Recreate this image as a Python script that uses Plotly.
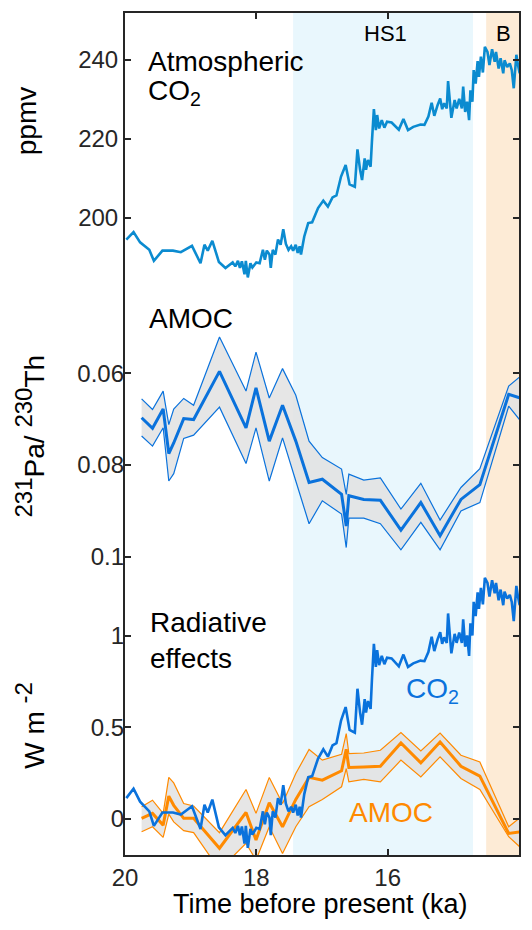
import plotly.graph_objects as go

# ---------------- data ----------------
co2_age = [19.98, 19.87, 19.77, 19.63, 19.56, 19.43, 19.27, 19.15, 18.98, 18.85, 18.79, 18.74, 18.67, 18.57,
           18.47, 18.41, 18.36, 18.32, 18.28, 18.25, 18.22, 18.18, 18.16, 18.13, 18.09, 18.06, 18.00, 17.95,
           17.90, 17.87, 17.84, 17.80, 17.78, 17.75, 17.71, 17.67, 17.63, 17.59, 17.55, 17.51, 17.47, 17.44,
           17.40, 17.37, 17.34, 17.32, 17.27, 17.21, 17.15, 17.06, 16.98, 16.91, 16.84, 16.78, 16.71, 16.64,
           16.58, 16.50, 16.46, 16.42, 16.39, 16.35, 16.33, 16.30, 16.26, 16.24, 16.21, 16.18, 16.16, 16.13,
           16.09, 16.05, 16.01, 15.94, 15.83, 15.76, 15.69, 15.61, 15.50, 15.44, 15.38, 15.33, 15.29, 15.24,
           15.20, 15.17, 15.14, 15.10, 15.08, 15.03, 14.98, 14.95, 14.91, 14.87, 14.85, 14.82, 14.79, 14.76,
           14.74, 14.71, 14.69, 14.66, 14.63, 14.61, 14.58, 14.55, 14.52, 14.48, 14.45, 14.41, 14.37, 14.35,
           14.31, 14.28, 14.24, 14.22, 14.18, 14.14, 14.11, 14.08, 14.04, 14.02, 13.99]
co2_ppmv = [194.4, 196.3, 193.7, 191.8, 189.0, 191.6, 191.6, 191.2, 192.8, 188.4, 193.1, 191.6, 194.1, 188.7,
            187.2, 188.0, 188.6, 187.6, 189.0, 187.2, 188.9, 185.6, 189.0, 184.8, 188.4, 187.3, 188.6, 188.4,
            191.8, 189.3, 191.6, 190.6, 187.2, 191.8, 190.6, 194.4, 193.1, 197.0, 193.3, 191.8, 192.7, 191.6,
            193.1, 191.0, 192.7, 190.6, 195.2, 198.6, 198.8, 202.4, 204.3, 202.8, 205.1, 205.6, 210.4, 213.3,
            208.4, 207.8, 217.3, 212.1, 209.5, 215.0, 212.1, 214.6, 212.9, 219.2, 227.5, 222.2, 226.0, 222.6,
            224.7, 222.8, 224.3, 224.1, 222.3, 225.0, 222.2, 223.0, 223.6, 223.5, 225.6, 229.1, 225.8, 228.5,
            230.2, 227.5, 229.0, 227.7, 234.6, 225.3, 229.8, 227.7, 230.1, 227.7, 233.2, 226.8, 229.4, 224.7,
            232.3, 229.4, 237.4, 234.0, 239.7, 235.7, 240.8, 236.8, 243.3, 242.0, 238.7, 242.7, 239.5, 242.0,
            237.8, 240.4, 236.6, 239.9, 238.2, 239.1, 237.4, 232.8, 241.3, 239.1, 236.6]
co2_rad = [0.114, 0.166, 0.095, 0.042, -0.037, 0.036, 0.036, 0.025, 0.07, -0.054, 0.078, 0.036, 0.106, -0.045,
           -0.088, -0.065, -0.048, -0.076, -0.037, -0.088, -0.04, -0.134, -0.037, -0.157, -0.054, -0.085, -0.048,
           -0.054, 0.042, -0.028, 0.036, 0.008, -0.088, 0.042, 0.008, 0.114, 0.078, 0.185, 0.084, 0.042, 0.067,
           0.036, 0.078, 0.02, 0.067, 0.008, 0.136, 0.228, 0.234, 0.33, 0.38, 0.34, 0.401, 0.414, 0.537, 0.61,
           0.486, 0.471, 0.71, 0.58, 0.514, 0.653, 0.58, 0.643, 0.6, 0.756, 0.955, 0.829, 0.92, 0.839, 0.889,
           0.844, 0.879, 0.875, 0.832, 0.896, 0.829, 0.848, 0.863, 0.86, 0.91, 0.993, 0.915, 0.979, 1.018, 0.955,
           0.99, 0.96, 1.12, 0.903, 1.009, 0.96, 1.016, 0.96, 1.088, 0.939, 1.0, 0.889, 1.067, 1.0, 1.183, 1.106,
           1.235, 1.145, 1.259, 1.17, 1.314, 1.286, 1.212, 1.301, 1.23, 1.286, 1.192, 1.25, 1.165, 1.239, 1.201,
           1.221, 1.183, 1.078, 1.27, 1.221, 1.165]

amoc_age = [19.747, 19.581, 19.419, 19.333, 19.258, 19.106, 18.955, 18.561, 18.157, 18.005, 17.803, 17.601,
            17.399, 17.197, 16.995, 16.702, 16.631, 16.591, 16.364, 16.111, 15.798, 15.495, 15.202, 14.884,
            14.596, 14.157, 13.965]
pa_mid = [0.0697, 0.0720, 0.0678, 0.0775, 0.0752, 0.0699, 0.0701, 0.0596, 0.0719, 0.0632, 0.0748, 0.0670,
          0.0748, 0.0838, 0.0831, 0.0864, 0.0933, 0.0867, 0.0875, 0.0877, 0.0942, 0.0882, 0.0954, 0.0875,
          0.0843, 0.0646, 0.0655]
pa_low = [0.0656, 0.0679, 0.0639, 0.0712, 0.0678, 0.0655, 0.0670, 0.0521, 0.0639, 0.0554, 0.0654, 0.0590,
          0.0648, 0.0748, 0.0784, 0.0809, 0.0864, 0.0820, 0.0833, 0.0828, 0.0896, 0.0840, 0.0920, 0.0849,
          0.0808, 0.0628, 0.0605]
pa_high = [0.0737, 0.0759, 0.0719, 0.0835, 0.0819, 0.0742, 0.0735, 0.0674, 0.0797, 0.0719, 0.0835, 0.0741,
           0.0835, 0.0928, 0.0878, 0.0907, 0.0980, 0.0916, 0.0916, 0.0928, 0.0985, 0.0925, 0.0985, 0.0900,
           0.0882, 0.0672, 0.0706]

rad_mid = [0.004, 0.031, -0.033, 0.125, 0.075, 0.004, 0.004, -0.159, 0.036, -0.114, 0.089, -0.042,
           0.107, 0.227, 0.212, 0.263, 0.380, 0.281, 0.284, 0.288, 0.415, 0.306, 0.420, 0.288,
           0.234, -0.078, -0.069]
rad_high = [0.067, 0.103, 0.031, 0.227, 0.197, 0.085, 0.071, -0.074, 0.161, 0.031, 0.227, 0.085,
            0.248, 0.379, 0.321, 0.353, 0.466, 0.357, 0.360, 0.375, 0.471, 0.371, 0.469, 0.348,
            0.311, -0.042, 0.013]
rad_low = [-0.069, -0.042, -0.100, 0.027, -0.015, -0.063, -0.074, -0.277, -0.132, -0.223, -0.042, -0.187,
           -0.042, 0.067, 0.107, 0.176, 0.275, 0.203, 0.216, 0.203, 0.321, 0.230, 0.339, 0.221,
           0.161, -0.096, -0.159]

hs1_span = [17.44, 14.70]
ba_span = [14.50, 14.0]

# ---------------- styling ----------------
FONT = "Liberation Sans, Arial, Helvetica, sans-serif"
INK = "#262626"
BLUE_TOP = "#0b8bd0"
BLUE = "#0a72dc"
ORANGE = "#ff8a00"
BAND = "rgba(226,226,226,0.85)"

fig = go.Figure()

# top: CO2
fig.add_trace(go.Scatter(x=co2_age, y=co2_ppmv, mode="lines", line=dict(color=BLUE_TOP, width=2.6),
                         yaxis="y", hoverinfo="skip"))

# middle: Pa/Th band
fig.add_trace(go.Scatter(x=amoc_age, y=pa_low, mode="lines", line=dict(width=0), yaxis="y2", hoverinfo="skip"))
fig.add_trace(go.Scatter(x=amoc_age, y=pa_high, mode="lines", line=dict(width=0), fill="tonexty",
                         fillcolor=BAND, yaxis="y2", hoverinfo="skip"))
for arr in (pa_low, pa_high):
    fig.add_trace(go.Scatter(x=amoc_age, y=arr, mode="lines", line=dict(color=BLUE, width=1.2),
                             yaxis="y2", hoverinfo="skip"))
fig.add_trace(go.Scatter(x=amoc_age, y=pa_mid, mode="lines", line=dict(color=BLUE, width=3),
                         yaxis="y2", hoverinfo="skip"))

# bottom: radiative effects
fig.add_trace(go.Scatter(x=amoc_age, y=rad_low, mode="lines", line=dict(width=0), yaxis="y3", hoverinfo="skip"))
fig.add_trace(go.Scatter(x=amoc_age, y=rad_high, mode="lines", line=dict(width=0), fill="tonexty",
                         fillcolor=BAND, yaxis="y3", hoverinfo="skip"))
for arr in (rad_low, rad_high):
    fig.add_trace(go.Scatter(x=amoc_age, y=arr, mode="lines", line=dict(color=ORANGE, width=1.2),
                             yaxis="y3", hoverinfo="skip"))
fig.add_trace(go.Scatter(x=amoc_age, y=rad_mid, mode="lines", line=dict(color=ORANGE, width=3),
                         yaxis="y3", hoverinfo="skip"))
fig.add_trace(go.Scatter(x=co2_age, y=co2_rad, mode="lines", line=dict(color=BLUE, width=2.6),
                         yaxis="y3", hoverinfo="skip"))

# shaded intervals
fig.add_vrect(x0=hs1_span[0], x1=hs1_span[1], fillcolor="#e9f7fd", opacity=1, line_width=0, layer="below")
fig.add_vrect(x0=ba_span[0], x1=ba_span[1], fillcolor="#fdebd6", opacity=1, line_width=0, layer="below")

# page has an 8px body margin; size the figure so it fills the 532x930 window
OFF = 8
W, H = 532 - 2 * OFF, 930 - 2 * OFF
L, R, T, B = 117, 3, 3, 67
pw, ph = W - L - R, H - T - B


def px(xp):
    return (xp - OFF - L) / pw


def py(yp):
    return (H - B - (yp - OFF)) / ph


tick_common = dict(ticks="inside", ticklen=6, tickwidth=1.5, tickcolor=INK, showgrid=False, zeroline=False,
                   tickfont=dict(family=FONT, size=24, color=INK))

fig.update_layout(
    width=W, height=H, margin=dict(l=L, r=R, t=T, b=B),
    paper_bgcolor="white", plot_bgcolor="white", showlegend=False,
    font=dict(family=FONT, color=INK),
    xaxis=dict(range=[20, 14], tickvals=[20, 18, 16, 14], showline=True, linecolor=INK, linewidth=2,
               mirror="ticks", **tick_common),
    yaxis=dict(range=[38.23, 251.9], tickvals=[200, 220, 240], showline=True, linecolor=INK, linewidth=2,
               mirror="ticks", **tick_common),
    yaxis2=dict(range=[0.165, -0.0185], tickvals=[0.06, 0.08, 0.1], ticktext=["0.06", "0.08", "0.1"],
                overlaying="y", side="left", showline=False, mirror="ticks", **tick_common),
    yaxis3=dict(range=[-0.1957, 4.391], tickvals=[0, 0.5, 1], ticktext=["0", "0.5", "1"],
                overlaying="y", side="left", showline=False, mirror="ticks", **tick_common),
)

ann = []


def add(text, x, y, size=28, color="black", xanchor="left", angle=0, yanchor="middle"):
    ann.append(dict(text=text, x=px(x), y=py(y), xref="paper", yref="paper", showarrow=False,
                    xanchor=xanchor, yanchor=yanchor, textangle=angle,
                    font=dict(family=FONT, size=size, color=color)))


add("Atmospheric", 146, 60)
add("CO<sub>2</sub>", 146, 91)
add("AMOC", 147, 317)
add("Radiative", 148, 622)
add("effects", 148, 658)
add("CO<sub>2</sub>", 405, 690, color=BLUE)
add("AMOC", 348, 812, color=ORANGE)
add("HS1", 387, 32, size=22, xanchor="center")
add("B", 505, 32, size=22, xanchor="center")
add("ppmv", 26, 120, xanchor="center", angle=-90)
add("<sup><span style='font-size:24px'>231</span></sup>Pa/ <sup><span style='font-size:24px'>230</span></sup>Th",
    30, 435, xanchor="center", angle=-90)
add("W m <sup><span style='font-size:24px'>-2</span></sup>", 30, 725, xanchor="center", angle=-90)
add("Time before present (ka)", 321, 921, size=27, xanchor="center", yanchor="bottom")
fig.update_layout(annotations=ann)

fig.write_html("out.html")
